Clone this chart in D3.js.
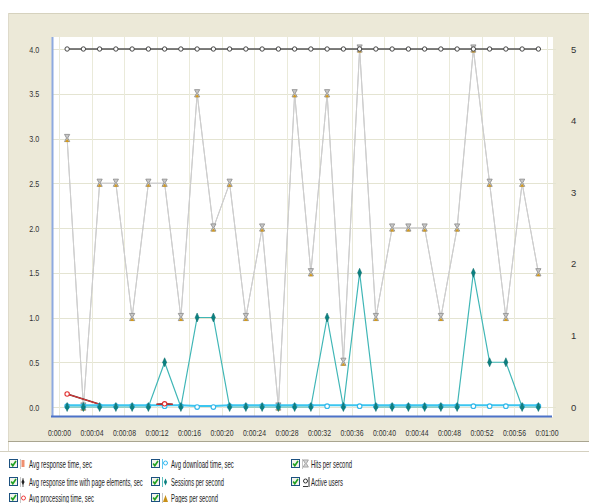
<!DOCTYPE html>
<html><head><meta charset="utf-8">
<script src="https://cdn.jsdelivr.net/npm/d3@7"></script>
<style>body{margin:0;background:#fff}svg{display:block}text{font-family:"Liberation Sans Narrow","Liberation Sans",sans-serif}</style>
</head><body>
<svg id="c" width="589" height="503"></svg>
<script>
// ---- data ----
const times = [1,3,5,7,9,11,13,15,17,19,21,23,25,27,29,31,33,35,37,39,41,43,45,47,49,51,53,55,57,59];
const activeUsers = [5,5,5,5,5,5,5,5,5,5,5,5,5,5,5,5,5,5,5,5,5,5,5,5,5,5,5,5,5,5];
const hitsPerSecond = [3.0,0,2.5,2.5,1.0,2.5,2.5,1.0,3.5,2.0,2.5,1.0,2.0,0,3.5,1.5,3.5,0.5,4.0,1.0,2.0,2.0,2.0,1.0,2.0,4.0,2.5,1.0,2.5,1.5];
const pagesPerSecond = [3.0,0,2.5,2.5,1.0,2.5,2.5,1.0,3.5,2.0,2.5,1.0,2.0,0,3.5,1.5,3.5,0.5,4.0,1.0,2.0,2.0,2.0,1.0,2.0,4.0,2.5,1.0,2.5,1.5];
const sessionsPerSecond = [0,0,0,0,0,0,0.5,0,1.0,1.0,0,0,0,0,0,0,1.0,0,1.5,0,0,0,0,0,0,1.5,0.5,0.5,0,0];
const avgDownloadTime = [0.02,0.02,0.02,0.02,0.02,0.02,0.02,0.02,0.01,0.01,0.02,0.02,0.02,0.02,0.02,0.02,0.02,0.02,0.02,0.02,0.02,0.02,0.02,0.02,0.02,0.02,0.02,0.02,0.02,0.02];
const procTimes = [1,5,null,12,13,14];
const avgProcessingTime = [0.145,0.03,null,0.03,0.035,0.03];
const procMarker = [true,false,false,false,true,false];
const xTickSeconds = [0,4,8,12,16,20,24,28,32,36,40,44,48,52,56,60];
const xTickLabels = ["0:00:00","0:00:04","0:00:08","0:00:12","0:00:16","0:00:20","0:00:24","0:00:28","0:00:32","0:00:36","0:00:40","0:00:44","0:00:48","0:00:52","0:00:56","0:01:00"];
const leftTicks = [0,0.5,1.0,1.5,2.0,2.5,3.0,3.5,4.0];
const rightTicks = [0,1,2,3,4,5];
const legendItems = ["Avg response time, sec","Avg response time with page elements, sec","Avg processing time, sec","Avg download time, sec","Sessions per second","Pages per second","Hits per second","Active users"];

// ---- layout ----
const svg = d3.select("#c");
const P = {l:52, r:553, t:37, b:417};
const x = d3.scaleLinear().domain([0,60]).range([59,546.5]);
const yL = d3.scaleLinear().domain([0,4]).range([407,49]);
const yR = d3.scaleLinear().domain([0,5]).range([407,49]);

function squeeze(sel, w){
  sel.each(function(){
    const n = this.getComputedTextLength();
    if(n > w) d3.select(this).attr("transform", `scale(${w/n},1)`);
  });
}

// background panels
svg.append("rect").attr("width",589).attr("height",503).attr("fill","#fff");
svg.append("rect").attr("x",8).attr("y",13).attr("width",581).attr("height",429).attr("fill","#ECE9D8");
svg.append("line").attr("x1",8).attr("x2",589).attr("y1",13.5).attr("y2",13.5).attr("stroke","#D6D2BE");
svg.append("line").attr("x1",8.5).attr("x2",8.5).attr("y1",13).attr("y2",452).attr("stroke","#DEDACA");
svg.append("line").attr("x1",8).attr("x2",589).attr("y1",441.5).attr("y2",441.5).attr("stroke","#A9A590");
svg.append("line").attr("x1",0).attr("x2",589).attr("y1",451.5).attr("y2",451.5).attr("stroke","#D4D0C0");
svg.append("rect").attr("x",P.l).attr("y",P.t).attr("width",P.r-P.l).attr("height",P.b-P.t).attr("fill","#fff");

// grid
const g = svg.append("g");
g.selectAll(".hg").data(leftTicks).join("line")
  .attr("x1",P.l).attr("x2",556).attr("y1",d=>Math.round(yL(d))+0.5).attr("y2",d=>Math.round(yL(d))+0.5)
  .attr("stroke","#E4E4D2");
g.selectAll(".vg").data(xTickSeconds).join("line")
  .attr("y1",P.t).attr("y2",423).attr("x1",d=>Math.round(x(d))+0.5).attr("x2",d=>Math.round(x(d))+0.5)
  .attr("stroke","#EAEADA");

// axes lines
svg.append("line").attr("x1",52.5).attr("x2",52.5).attr("y1",P.t).attr("y2",P.b).attr("stroke","#8EAAE0").attr("stroke-width",2);
svg.append("line").attr("x1",51).attr("x2",552).attr("y1",416.5).attr("y2",416.5).attr("stroke","#4C72C8").attr("stroke-width",2);

// tick labels
const axL = d3.axisLeft(yL).tickValues(leftTicks).tickFormat(d3.format(".1f")).tickSize(0).tickPadding(17);
const gl = svg.append("g").attr("transform","translate(52,0)").call(axL);
gl.select(".domain").remove();
gl.selectAll("text").attr("font-size",9.5).attr("fill","#333").attr("font-family","Liberation Sans Narrow");
squeeze(gl.selectAll("text"), 10);
const axR = d3.axisRight(yR).tickValues(rightTicks).tickFormat(d3.format("d")).tickSize(0).tickPadding(18);
const gr = svg.append("g").attr("transform","translate(553,0)").call(axR);
gr.select(".domain").remove();
gr.selectAll("text").attr("font-size",9.5).attr("fill","#333").attr("font-family","Liberation Sans Narrow");
const axB = d3.axisBottom(x).tickValues(xTickSeconds).tickFormat((d,i)=>xTickLabels[i]).tickSize(0).tickPadding(12);
const gb = svg.append("g").attr("transform","translate(0,417)").call(axB);
gb.select(".domain").remove();
gb.selectAll("text").attr("font-size",9.5).attr("fill","#333").attr("font-family","Liberation Sans Narrow");
squeeze(gb.selectAll("text"), 23);

// series lines
const idx = d3.range(times.length);
const lineL = arr => d3.line().x(i=>x(times[i])).y(i=>yL(arr[i]))(idx);
svg.append("path").attr("d",lineL(pagesPerSecond)).attr("fill","none").attr("stroke","#C4C4C4").attr("stroke-width",1);
svg.append("path").attr("d",lineL(hitsPerSecond)).attr("fill","none").attr("stroke","#CFCFCF").attr("stroke-width",1);
svg.append("path").attr("d",lineL(sessionsPerSecond)).attr("fill","none").attr("stroke","#3FB6B6").attr("stroke-width",1.2);
svg.append("path").attr("d",lineL(avgDownloadTime)).attr("fill","none").attr("stroke","#3CC6F0").attr("stroke-width",2);
const pIdx = d3.range(procTimes.length);
const procLine = d3.line().defined(i=>procTimes[i]!==null).x(i=>x(procTimes[i])).y(i=>yL(avgProcessingTime[i]));
svg.append("path").attr("d",procLine(pIdx)).attr("fill","none").attr("stroke","#602020").attr("stroke-width",1.6);
svg.append("path").attr("d",procLine(pIdx)).attr("fill","none").attr("stroke","#E03A3A").attr("stroke-width",1);
svg.append("path").attr("d",d3.line().x(i=>x(times[i])).y(i=>yR(activeUsers[i]))(idx)).attr("fill","none").attr("stroke","#555").attr("stroke-width",1.5);

// markers
const hourglass = "M-2.6,-3.6L2.6,-3.6L0.6,0L2.6,3.6L-2.6,3.6L-0.6,0Z";
const tri = "M0,-1.4L2,1.4L-2,1.4Z";
const diamond = "M0,-4.5L2,0L0,4.5L-2,0Z";
svg.selectAll(".hm").data(idx).join("path").attr("d",hourglass)
  .attr("transform",i=>`translate(${x(times[i])},${yL(hitsPerSecond[i])-0.5})`)
  .attr("fill","#C8C8C8").attr("stroke","#888").attr("stroke-width",0.8);
svg.selectAll(".pm").data(idx).join("path").attr("d",tri)
  .attr("transform",i=>`translate(${x(times[i])},${yL(pagesPerSecond[i])+2})`)
  .attr("fill","#D49A1C");
svg.selectAll(".dm").data(idx).join("circle")
  .attr("cx",i=>x(times[i])).attr("cy",i=>yL(avgDownloadTime[i])+1).attr("r",2.3)
  .attr("fill","#fff").attr("stroke","#32B8EA").attr("stroke-width",1.1);
svg.selectAll(".sm").data(idx).join("path").attr("d",diamond)
  .attr("transform",i=>`translate(${x(times[i])},${yL(sessionsPerSecond[i])})`)
  .attr("fill","#0B8080").attr("stroke","#0A6A6A").attr("stroke-width",0.5);
svg.selectAll(".prm").data(pIdx.filter(i=>procMarker[i])).join("circle")
  .attr("cx",i=>x(procTimes[i])).attr("cy",i=>yL(avgProcessingTime[i])).attr("r",2.2)
  .attr("fill","#fff").attr("stroke","#E03030").attr("stroke-width",1.1);
svg.selectAll(".am").data(idx).join("circle")
  .attr("cx",i=>x(times[i])).attr("cy",i=>yR(activeUsers[i])).attr("r",2.2)
  .attr("fill","#fff").attr("stroke","#444").attr("stroke-width",1);

// legend
const colX = [9,151,291];
const rowY = [464,482,498];
const legendPos = [[0,0],[0,1],[0,2],[1,0],[1,1],[1,2],[2,0],[2,1]];
const legendW = [63,114,65,63,53,47,41,32];
const lg = svg.append("g");
legendItems.forEach((name,k)=>{
  const [c,r] = legendPos[k];
  const bx = colX[c], cy = rowY[r];
  const it = lg.append("g");
  it.append("rect").attr("x",bx+0.5).attr("y",cy-4.5).attr("width",8).attr("height",8)
    .attr("fill","#F4F4EE").attr("stroke","#1C5180").attr("stroke-width",1);
  it.append("path").attr("d",`M${bx+2.2},${cy-0.5}L${bx+3.8},${cy+1.8}L${bx+7},${cy-3}`)
    .attr("fill","none").attr("stroke","#21A121").attr("stroke-width",1.6);
  const ix = bx + 13;
  const icon = it.append("g").attr("transform",`translate(${ix},${cy})`);
  icon.append("line").attr("x1",-1.5).attr("x2",-1.5).attr("y1",-5).attr("y2",5).attr("stroke","#C8C8C8");
  if(k===0){ icon.append("rect").attr("x",-0.5).attr("y",-4).attr("width",3).attr("height",7).attr("fill","#F09070"); }
  if(k===1){ icon.append("path").attr("d","M1,-3L2.6,0L1,3L-0.6,0Z").attr("fill","#222"); icon.append("line").attr("x1",1).attr("x2",1).attr("y1",-4).attr("y2",5).attr("stroke","#222").attr("stroke-width",0.7); }
  if(k===2){ icon.append("circle").attr("cx",1.5).attr("cy",0).attr("r",2).attr("fill","#fff").attr("stroke","#F04040"); }
  if(k===3){ icon.append("circle").attr("cx",1.5).attr("cy",-1).attr("r",2).attr("fill","#fff").attr("stroke","#33B8F0"); icon.select("line").attr("stroke","#60C8F0"); }
  if(k===4){ icon.append("path").attr("d",diamond).attr("transform","translate(1.5,0) scale(0.8)").attr("fill","#0B8080"); icon.select("line").attr("stroke","#60C0C0"); }
  if(k===5){ icon.append("path").attr("d","M1.5,-3L4,4L-1,4Z").attr("fill","#C89018"); }
  if(k===6){ icon.append("path").attr("d",hourglass).attr("transform","translate(1.8,-0.5)").attr("fill","#D4D4D4").attr("stroke","#8E8E8E").attr("stroke-width",0.7); }
  if(k===7){ icon.append("circle").attr("cx",1.5).attr("cy",-1).attr("r",2).attr("fill","#fff").attr("stroke","#333"); icon.append("line").attr("x1",-1).attr("x2",4).attr("y1",4.5).attr("y2",4.5).attr("stroke","#333"); icon.select("line").attr("x1",5).attr("x2",5).attr("stroke","#333"); }
  const tg = it.append("g").attr("transform",`translate(${bx+20},${cy+3.5})`);
  const t = tg.append("text").attr("x",0).attr("y",0).attr("font-size",10).attr("fill","#222").text(name);
  squeeze(t, legendW[k]);
});
</script>
</body></html>
